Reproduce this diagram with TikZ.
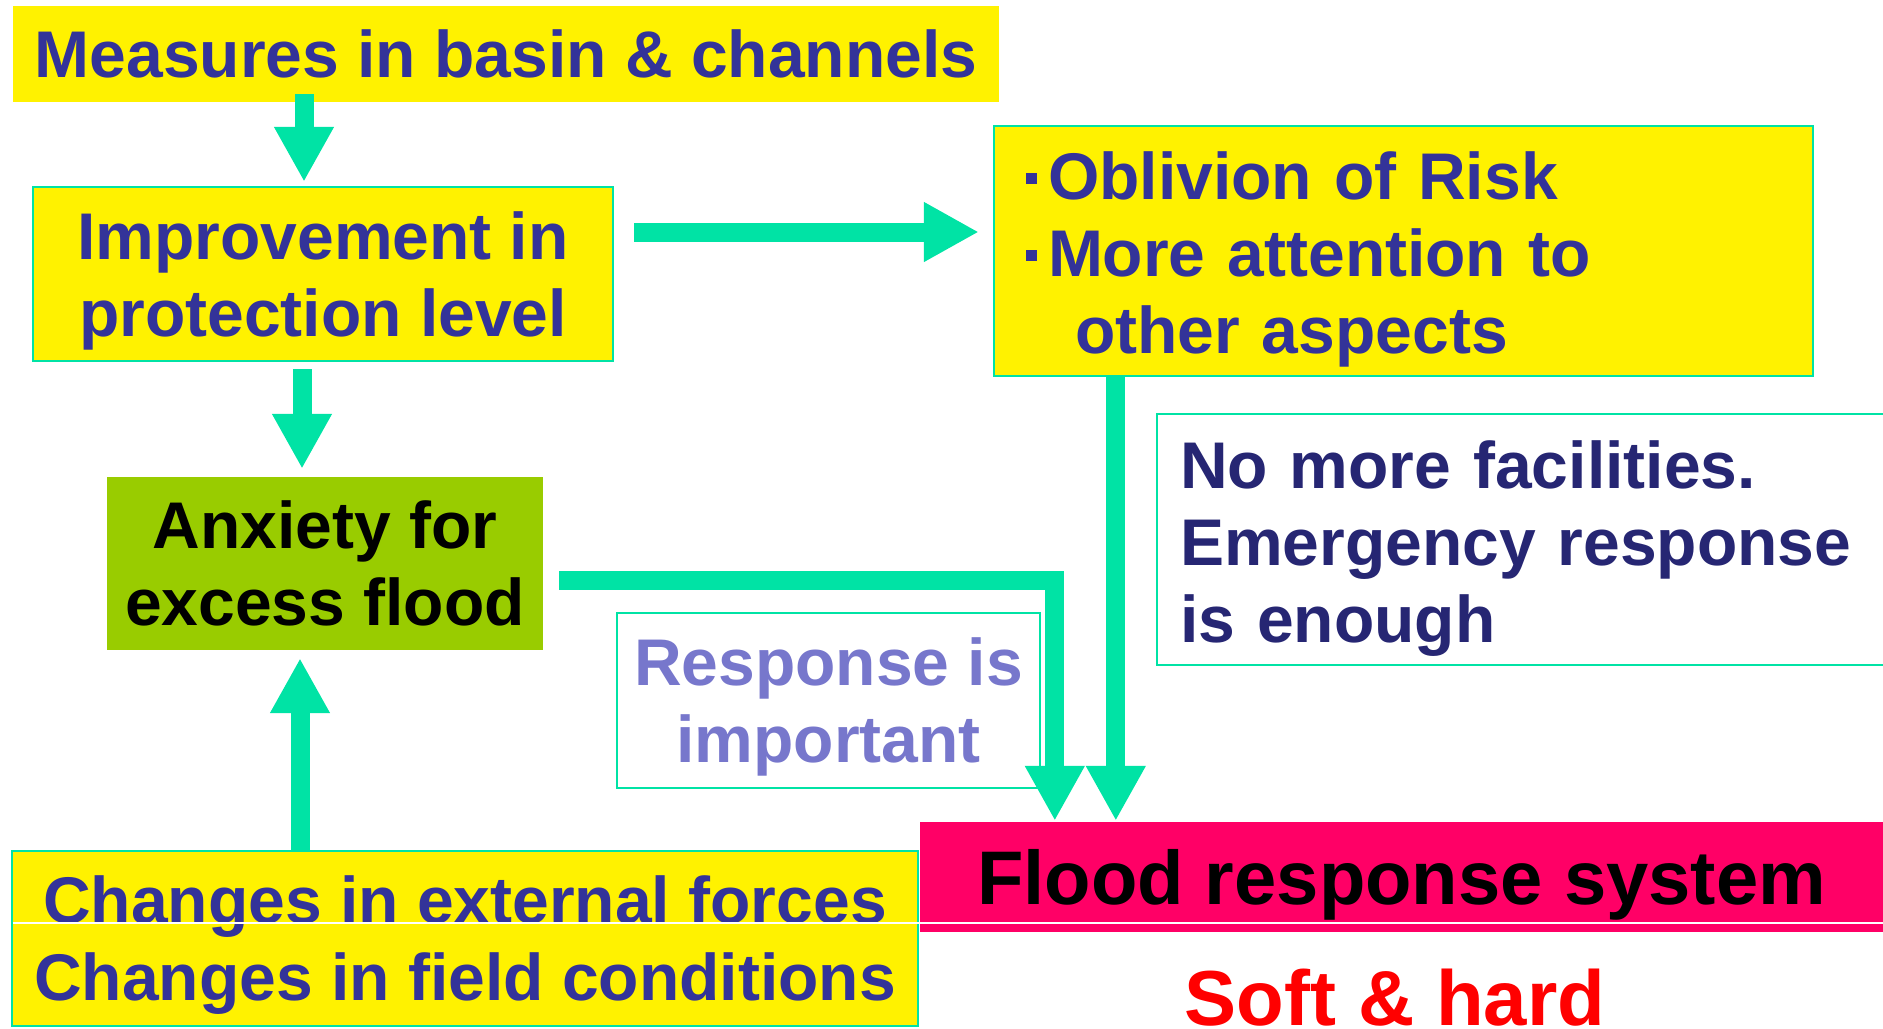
\documentclass[tikz,border=0pt]{standalone}
\usepackage{fontspec}
\setmainfont{Liberation Sans}
\usetikzlibrary{arrows.meta,calc}

\definecolor{jade}{RGB}{0,227,165}
\definecolor{ink}{RGB}{51,51,153}
\definecolor{deepink}{RGB}{38,38,115}
\definecolor{lilac}{RGB}{119,119,204}
\definecolor{lime}{RGB}{153,204,0}
\definecolor{rose}{RGB}{255,0,102}

% small square bullet
\newcommand{\sqdot}{\rule[8pt]{5.5pt}{5.5pt}\hspace{5.5pt}}

\begin{document}
\begin{tikzpicture}[x=0.5pt, y=-0.5pt,
    box/.style={draw=jade, line width=1.2pt, inner sep=0pt, align=center, text depth=-2pt,
        font=\bfseries\fontsize{33}{38.5}\selectfont},
    flow/.style={jade, line width=9.5pt, -{Triangle[length=27.5pt, width=28pt]}}]
    \useasboundingbox (0,0) rectangle (1883,1028);

    % Caixas
    \node[box, draw=none, fill=yellow, text=ink, minimum width=493pt, minimum height=48pt]
        (meas) at (506,54) {Measures in basin \& channels};
    \node[box, fill=yellow, text=ink, minimum width=290pt, minimum height=87pt]
        (impr) at (323,274) {Improvement in\\protection level};
    \node[box, fill=yellow, text=ink, align=left, inner xsep=16pt, text width=377.5pt,
        text depth=75pt, minimum width=409.5pt, minimum height=125pt]
        (obl) at (1403.5,251) {\sqdot Oblivion of Risk\\\sqdot More attention to\\\hspace*{24.5pt}other aspects};
    \node[box, fill=white, text=deepink, align=left, inner xsep=11.5pt, text width=348.5pt,
        text depth=75pt, minimum width=371.5pt, minimum height=125.5pt]
        (nomore) at (1528.5,539.5) {No more facilities.\\Emergency response\\is enough};
    \node[box, draw=none, fill=lime, text=black, minimum width=218pt, minimum height=86.5pt]
        (anx) at (325,563.5) {Anxiety for\\excess flood};
    \node[box, fill=white, text=lilac, minimum width=211.5pt, minimum height=87.5pt]
        (resp) at (828.5,700.5) {Response is\\important};
    \node[box, fill=yellow, text=ink, minimum width=453pt, minimum height=87.5pt]
        (chg) at (465,938.5) {Changes in external forces\\Changes in field conditions};
    \node[box, draw=none, fill=rose, text=black, minimum width=481.5pt, minimum height=55pt,
        font=\bfseries\fontsize{38}{44}\selectfont]
        (flood) at (1401.5,877) {Flood response system};
    \node[anchor=base, inner sep=0pt, text=red, font=\bfseries\fontsize{39}{45}\selectfont]
        (soft) at (1395,1025) {Soft \& hard};

    % linha branca
    \draw[white, line width=0.6pt] ($(chg.west)+(2,-15.5)$) -- ($(flood.east)+(0,46)$);

    % Setas
    \draw[flow] ($(meas.south -| impr.north)+(-19,-9)$) -- ($(impr.north)+(-19,-4)$);
    \draw[flow] ($(impr.east |- obl.west)+(20,-19)$) -- ($(obl.west)+(-14,-19)$);
    \draw[flow] ($(impr.south)+(-21,7)$) -- ($(anx.north)+(-23,-7)$);
    \coordinate (up) at ($(anx.south)+(-25,7)$);
    \draw[flow] (chg.north -| up) -- (up);
    \draw[flow] ($(anx.east)+(15,16.5)$) -| ($(flood.north west)+(136,0)$);
    \draw[flow] ($(obl.south west)+(123,0)$) -- ($(flood.north west)+(197,0)$);
\end{tikzpicture}
\end{document}
